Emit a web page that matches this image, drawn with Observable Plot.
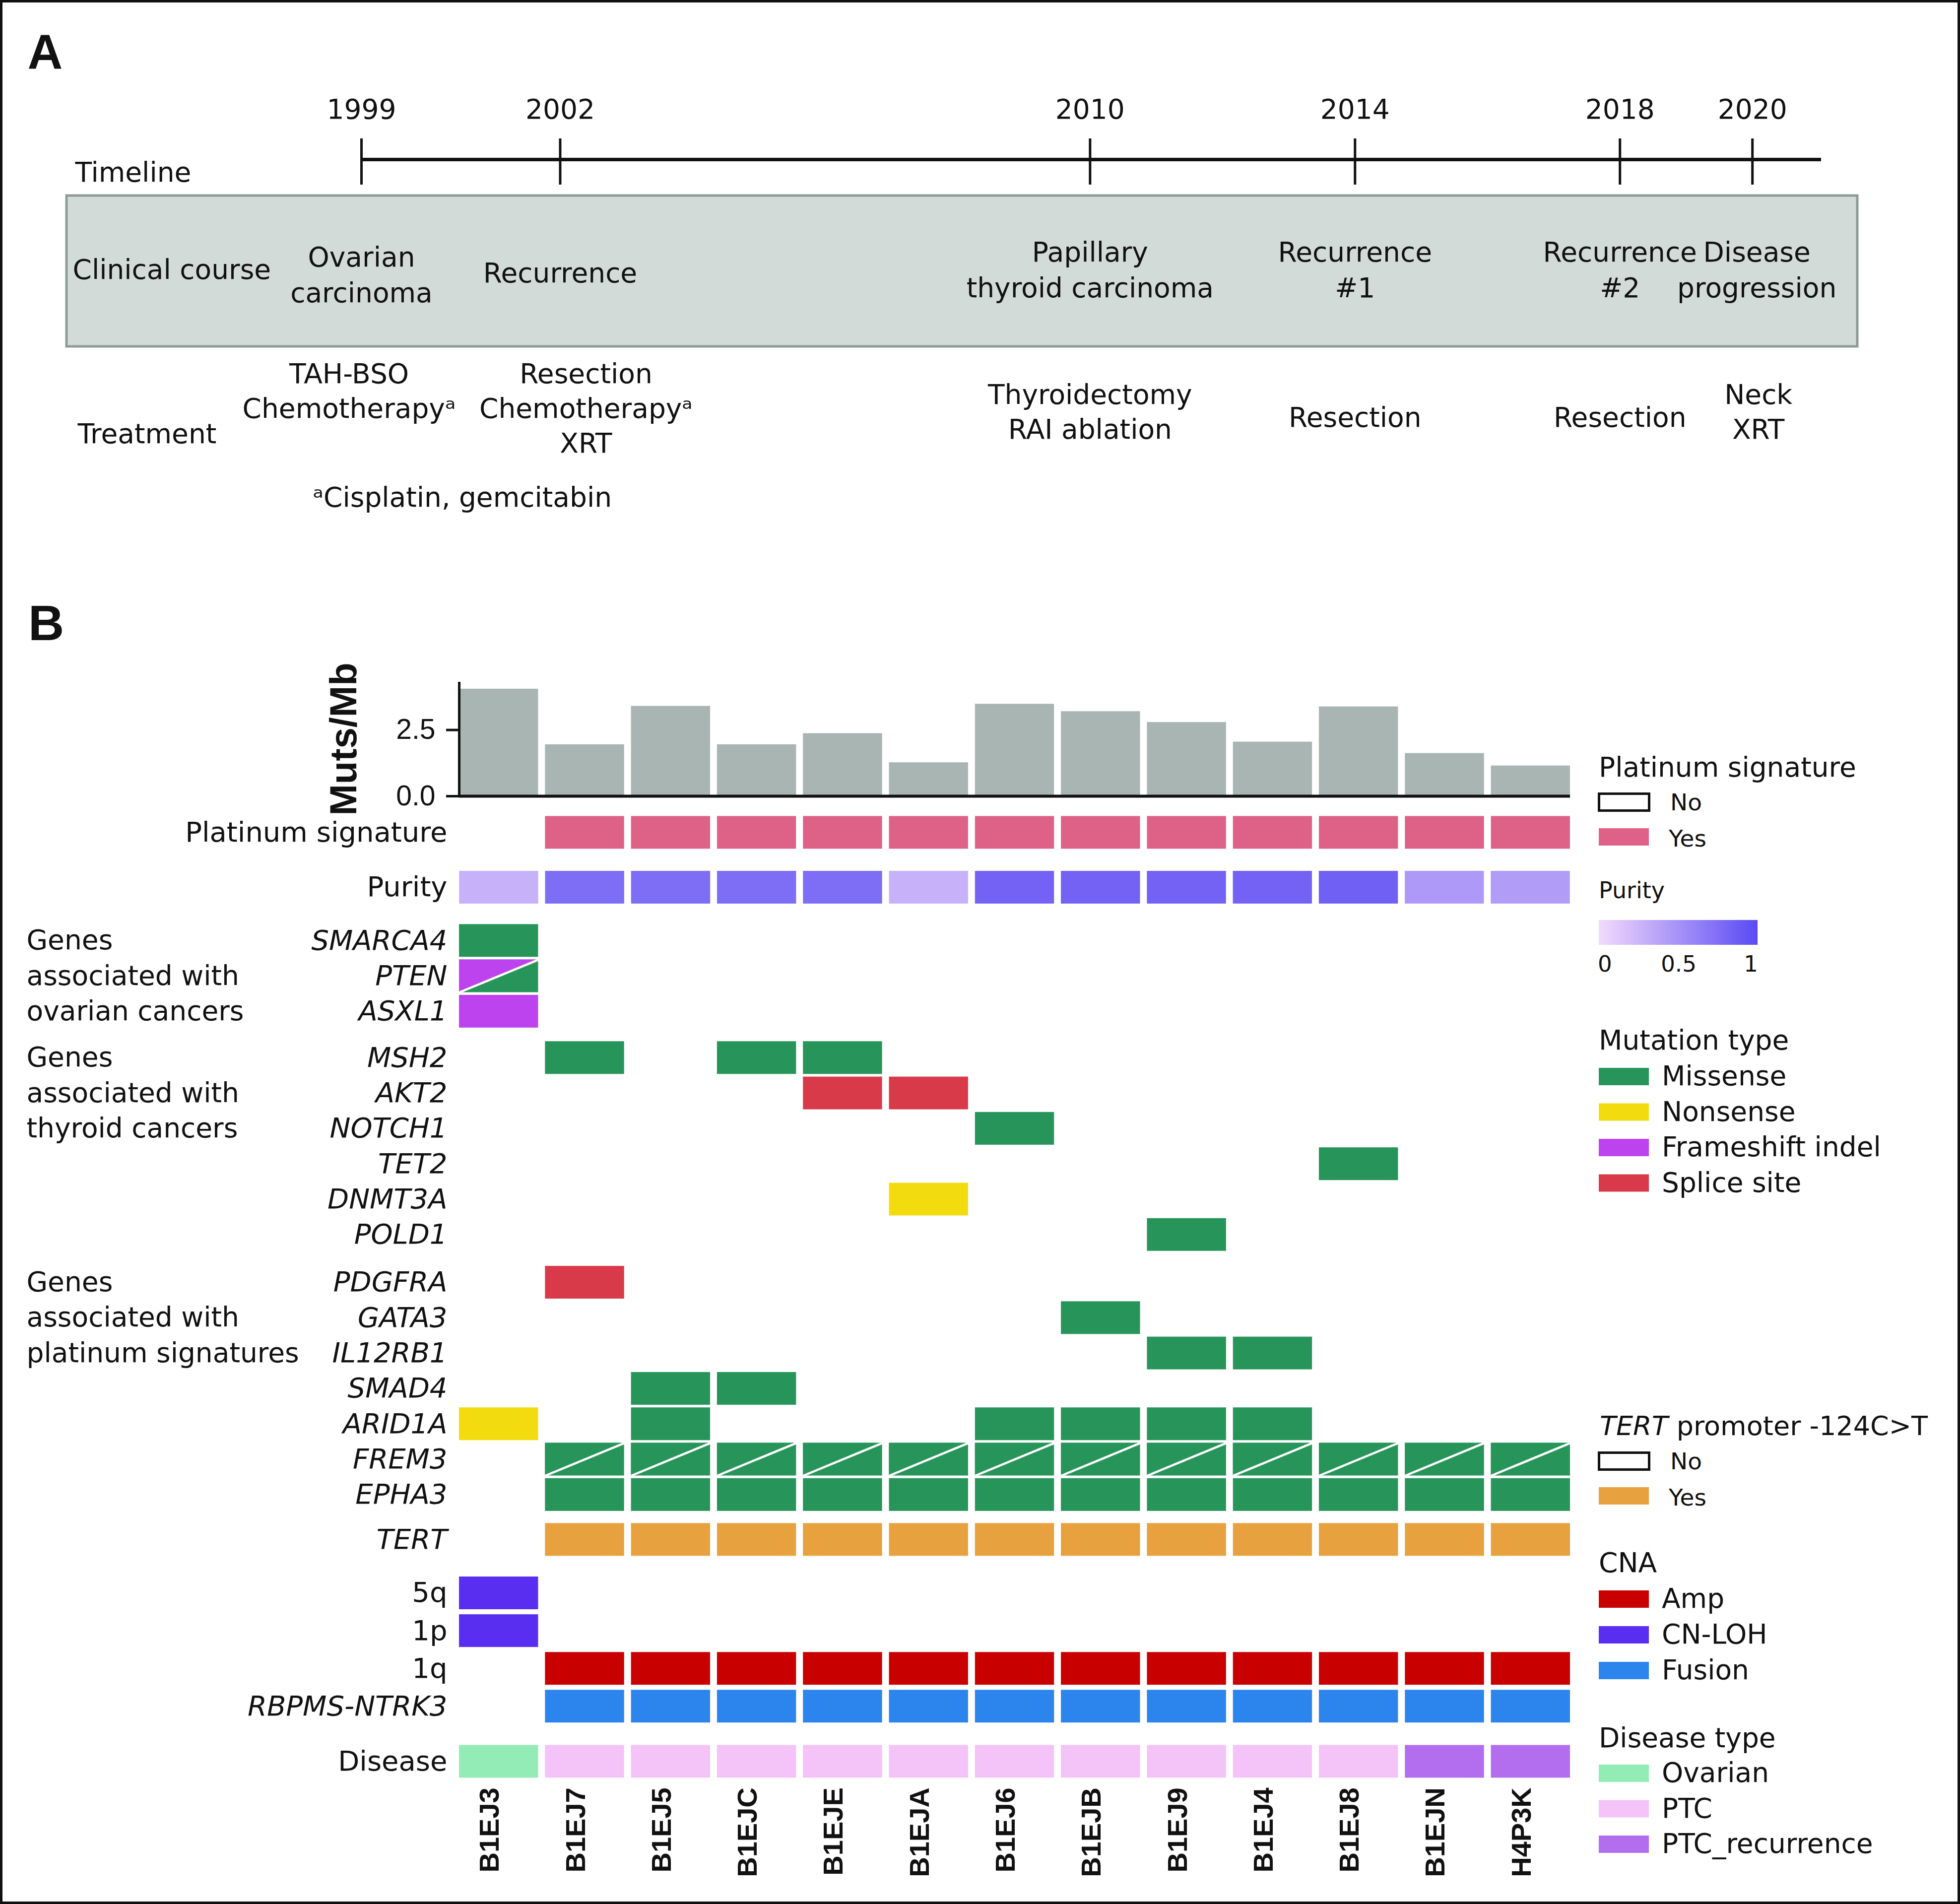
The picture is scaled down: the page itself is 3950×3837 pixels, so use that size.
<!DOCTYPE html>
<html><head><meta charset="utf-8">
<script src="https://cdn.jsdelivr.net/npm/d3@7"></script>
<script src="https://cdn.jsdelivr.net/npm/@observablehq/plot@0.6"></script>
<style>
html,body{margin:0;padding:0;background:#fff;}
#fig{position:relative;width:3950px;height:3837px;background:#fff;overflow:hidden;}
#fig > svg{position:absolute;left:0;}
</style></head><body><div id="fig"></div>
<script>
// ================= DATA =================
// Panel A: timeline
const years = [1999, 2002, 2010, 2014, 2018, 2020];
const clinicalEvents = [
  {year: 1999, lines: ["Ovarian", "carcinoma"]},
  {year: 2002, lines: ["Recurrence"]},
  {year: 2010, lines: ["Papillary", "thyroid carcinoma"]},
  {year: 2014, lines: ["Recurrence", "#1"]},
  {year: 2018, lines: ["Recurrence", "#2"]},
  {year: 2020, lines: ["Disease", "progression"]}
];
const treatments = [
  {year: 1999, lines: ["TAH-BSO", "Chemotherapy\u1d43"]},
  {year: 2002, lines: ["Resection", "Chemotherapy\u1d43", "XRT"]},
  {year: 2010, lines: ["Thyroidectomy", "RAI ablation"]},
  {year: 2014, lines: ["Resection"]},
  {year: 2018, lines: ["Resection"]},
  {year: 2020, lines: ["Neck", "XRT"]}
];
const footnote = "\u1d43Cisplatin, gemcitabin";

// Panel B: oncoprint
const samples = ["B1EJ3","B1EJ7","B1EJ5","B1EJC","B1EJE","B1EJA","B1EJ6","B1EJB","B1EJ9","B1EJ4","B1EJ8","B1EJN","H4P3K"];
const mutsPerMb = [4.05, 1.95, 3.40, 1.95, 2.37, 1.27, 3.48, 3.20, 2.79, 2.05, 3.38, 1.62, 1.15];
const platinumSignature = ["No","Yes","Yes","Yes","Yes","Yes","Yes","Yes","Yes","Yes","Yes","Yes","Yes"];
const purity = [0.28, 0.76, 0.76, 0.76, 0.76, 0.28, 0.83, 0.83, 0.83, 0.83, 0.85, 0.45, 0.43];
const tertPromoter = ["No","Yes","Yes","Yes","Yes","Yes","Yes","Yes","Yes","Yes","Yes","Yes","Yes"];
const diseaseType = ["Ovarian","PTC","PTC","PTC","PTC","PTC","PTC","PTC","PTC","PTC","PTC","PTC_recurrence","PTC_recurrence"];

const ovarianGenes = ["SMARCA4","PTEN","ASXL1"];
const thyroidGenes = ["MSH2","AKT2","NOTCH1","TET2","DNMT3A","POLD1"];
const platinumGenes = ["PDGFRA","GATA3","IL12RB1","SMAD4","ARID1A","FREM3","EPHA3"];
const cnaRows = ["5q","1p","1q","RBPMS-NTRK3"];

// [gene, sample, type]  ("A|B" = cell split diagonally: A upper-left, B lower-right)
const mutations = [
  ["SMARCA4","B1EJ3","Missense"],
  ["PTEN","B1EJ3","Frameshift indel|Missense"],
  ["ASXL1","B1EJ3","Frameshift indel"],
  ["MSH2","B1EJ7","Missense"],["MSH2","B1EJC","Missense"],["MSH2","B1EJE","Missense"],
  ["AKT2","B1EJE","Splice site"],["AKT2","B1EJA","Splice site"],
  ["NOTCH1","B1EJ6","Missense"],
  ["TET2","B1EJ8","Missense"],
  ["DNMT3A","B1EJA","Nonsense"],
  ["POLD1","B1EJ9","Missense"],
  ["PDGFRA","B1EJ7","Splice site"],
  ["GATA3","B1EJB","Missense"],
  ["IL12RB1","B1EJ9","Missense"],["IL12RB1","B1EJ4","Missense"],
  ["SMAD4","B1EJ5","Missense"],["SMAD4","B1EJC","Missense"],
  ["ARID1A","B1EJ3","Nonsense"],["ARID1A","B1EJ5","Missense"],["ARID1A","B1EJ6","Missense"],
  ["ARID1A","B1EJB","Missense"],["ARID1A","B1EJ9","Missense"],["ARID1A","B1EJ4","Missense"],
  ["FREM3","B1EJ7","Missense|Missense"],["FREM3","B1EJ5","Missense|Missense"],["FREM3","B1EJC","Missense|Missense"],
  ["FREM3","B1EJE","Missense|Missense"],["FREM3","B1EJA","Missense|Missense"],["FREM3","B1EJ6","Missense|Missense"],
  ["FREM3","B1EJB","Missense|Missense"],["FREM3","B1EJ9","Missense|Missense"],["FREM3","B1EJ4","Missense|Missense"],
  ["FREM3","B1EJ8","Missense|Missense"],["FREM3","B1EJN","Missense|Missense"],["FREM3","H4P3K","Missense|Missense"],
  ["EPHA3","B1EJ7","Missense"],["EPHA3","B1EJ5","Missense"],["EPHA3","B1EJC","Missense"],
  ["EPHA3","B1EJE","Missense"],["EPHA3","B1EJA","Missense"],["EPHA3","B1EJ6","Missense"],
  ["EPHA3","B1EJB","Missense"],["EPHA3","B1EJ9","Missense"],["EPHA3","B1EJ4","Missense"],
  ["EPHA3","B1EJ8","Missense"],["EPHA3","B1EJN","Missense"],["EPHA3","H4P3K","Missense"]
];
const cnaCalls = [
  ["5q","B1EJ3","CN-LOH"],["1p","B1EJ3","CN-LOH"],
  ["1q","B1EJ7","Amp"],["1q","B1EJ5","Amp"],["1q","B1EJC","Amp"],["1q","B1EJE","Amp"],
  ["1q","B1EJA","Amp"],["1q","B1EJ6","Amp"],["1q","B1EJB","Amp"],["1q","B1EJ9","Amp"],
  ["1q","B1EJ4","Amp"],["1q","B1EJ8","Amp"],["1q","B1EJN","Amp"],["1q","H4P3K","Amp"],
  ["RBPMS-NTRK3","B1EJ7","Fusion"],["RBPMS-NTRK3","B1EJ5","Fusion"],["RBPMS-NTRK3","B1EJC","Fusion"],
  ["RBPMS-NTRK3","B1EJE","Fusion"],["RBPMS-NTRK3","B1EJA","Fusion"],["RBPMS-NTRK3","B1EJ6","Fusion"],
  ["RBPMS-NTRK3","B1EJB","Fusion"],["RBPMS-NTRK3","B1EJ9","Fusion"],["RBPMS-NTRK3","B1EJ4","Fusion"],
  ["RBPMS-NTRK3","B1EJ8","Fusion"],["RBPMS-NTRK3","B1EJN","Fusion"],["RBPMS-NTRK3","H4P3K","Fusion"]
];

// categories & colours
const mutationTypes = ["Missense","Nonsense","Frameshift indel","Splice site"];
const mutationColors = ["#27955a","#f2dc10","#bd43ee","#d93a4a"];
const cnaTypes = ["Amp","CN-LOH","Fusion"];
const cnaColors = ["#c90000","#5a2ef0","#2c85ec"];
const diseaseTypes = ["Ovarian","PTC","PTC_recurrence"];
const diseaseColors = ["#93ebb6","#f4c3f8","#b36ef0"];
const platinumYesColor = "#de6288";
const tertYesColor = "#e8a13f";
const purityRange = ["#f2dafc", "#5a4af3"];
const barColor = "#a9b5b3";

// ================= LAYOUT =================
const W = 3950, H = 3837;
const FONT = "'DejaVu Sans', Verdana, sans-serif";
const ARIAL = "'Liberation Sans', Arial, Helvetica, sans-serif";
const NARROW = "'Liberation Sans Narrow', 'Arial Narrow', 'Liberation Sans', Arial, sans-serif";
const baseStyle = {background: "transparent", overflow: "visible", maxWidth: "none", fontFamily: FONT, fontSize: "56px", color: "#111"};
const fig = document.getElementById("fig");
function place(node, top) { node.style.top = top + "px"; fig.appendChild(node); }

// underlay: grey clinical-course band
const under = d3.create("svg").attr("width", W).attr("height", H).style("top", "0px");
under.append("rect").attr("x", 134).attr("y", 394).attr("width", 3743 - 134).attr("height", 698 - 394)
  .attr("fill", "#d3dbd8").attr("stroke", "#8e9c98").attr("stroke-width", 5);
place(under.node(), 0);

// ---------- Panel A ----------
const laneA = {year: 238, line: 321, tickTop: 279, tickBottom: 372};
// baselines (px) by number of lines in a label
const clinicalBaselines = {1: [568], 2: [526, 598]};
const treatmentBaselines = {1: [859], 2: [813, 883], 3: [771, 841, 911]};
const clinicalShift = {1999: {dx: 0, dy: 10}, 2020: {dx: 9, dy: 0}};
const treatmentShift = {1999: {dx: -25, topAligned: true}, 2002: {dx: 52}, 2020: {dx: 12}};
const headers = [
  {text: "Timeline", y: 365, dx: -577},
  {text: "Clinical course", y: 561, dx: -582},
  {text: "Treatment", y: 892, dx: -572}
];
const laneText = (events, baselines, shifts) => events.map(e => {
  const s = shifts[e.year] || {};
  const bl = s.topAligned ? baselines[3] : baselines[e.lines.length];
  return Plot.text(e.lines, {
    x: () => e.year,
    y: (d, i) => bl[i] + (s.dy || 0),
    text: d => d, lineAnchor: "bottom", fontSize: 55, fontFamily: FONT,
    dx: s.dx || 0
  });
});
const panelA = Plot.plot({
  width: W, height: 1100, marginLeft: 728, marginRight: 280, marginTop: 0, marginBottom: 0,
  x: {domain: [1999, 2021.04], axis: null},
  y: {domain: [0, 1100], range: [0, 1100], axis: null},
  style: baseStyle,
  marks: [
    Plot.ruleY([laneA.line], {strokeWidth: 7, stroke: "#111"}),
    Plot.ruleX(years, {x: d => d, y1: laneA.tickTop, y2: laneA.tickBottom, strokeWidth: 5, stroke: "#111"}),
    Plot.text(years, {x: d => d, y: laneA.year, text: d => String(d), lineAnchor: "bottom", fontSize: 55, fontFamily: FONT}),
    ...laneText(clinicalEvents, clinicalBaselines, clinicalShift),
    ...laneText(treatments, treatmentBaselines, treatmentShift),
    ...headers.map(h => Plot.text([h.text], {frameAnchor: "left", y: () => h.y, dx: h.dx, text: d => d, textAnchor: "start", lineAnchor: "bottom", fontSize: 55, fontFamily: FONT})),
    Plot.text([footnote], {frameAnchor: "left", y: () => 1020, dx: -98, text: d => d, textAnchor: "start", lineAnchor: "bottom", fontSize: 55, fontFamily: FONT}),
    Plot.text(["A"], {frameAnchor: "left", y: () => 137, dx: -673, text: d => d, textAnchor: "start", lineAnchor: "bottom", fontSize: 98, fontWeight: "bold", fontFamily: ARIAL})
  ]
});
place(panelA, 0);

// ---------- Panel B geometry ----------
const colX0 = 925, colX1 = 3164;       // heatmap horizontal extent (px)
const cellW = 0.92;                    // cell width as fraction of column step
const xDomain = [0, samples.length - 1 + cellW];
const xScale = {domain: xDomain, axis: null};
const marginL = colX0, marginR = W - colX1;

const rowGroups = [
  {rows: ["Platinum signature"], gap: 0},
  {rows: ["Purity"], gap: 0.546},
  {rows: ovarianGenes, gap: 0.51},
  {rows: thyroidGenes, gap: 0.31},
  {rows: platinumGenes, gap: 0.35},
  {rows: ["TERT"], gap: 0.27},
  {rows: cnaRows, gap: 0.51, pitch: 1.067},
  {rows: ["Disease"], gap: 0.56}
];
const rowTop = new Map();
let cursor = 0;
rowGroups.forEach((g, gi) => {
  cursor += g.gap;
  const p = g.pitch || 1;
  g.rows.forEach((r, i) => rowTop.set(r, cursor + i * p));
  cursor += (g.rows.length - 1) * p + 1;
});
const cellH = 0.925;
const unit = 71.3;
const yMax = 27.2;
const heatTop = 1620, heatMarginTop = 24.4, heatHeight = H - heatTop;
const heatMarginBottom = heatHeight - heatMarginTop - yMax * unit;
const rowCenter = r => rowTop.get(r) + cellH / 2;

// ---------- Bar chart (Muts/Mb) ----------
const barTop = 1300;
const barPlot = Plot.plot({
  width: W, height: 340, marginLeft: marginL, marginRight: marginR, marginTop: 74, marginBottom: 36,
  x: xScale,
  y: {domain: [0, 4.31]},
  style: baseStyle,
  marks: [
    Plot.rect(samples, {x1: (d, i) => i, x2: (d, i) => i + cellW, y1: 0, y2: (d, i) => mutsPerMb[i], fill: barColor}),
    Plot.ruleY([0], {strokeWidth: 6, stroke: "#111"}),
    Plot.ruleX([0], {y1: 0, y2: 4.31, strokeWidth: 5, stroke: "#111"}),
    Plot.axisY({ticks: [0, 2.5], tickFormat: d => d.toFixed(1), tickSize: 26, tickPadding: 22, strokeWidth: 5,
      fontSize: 57, fontFamily: ARIAL, label: null}),
    Plot.text(["Muts/Mb"], {frameAnchor: "left", dx: -232, rotate: -90, textAnchor: "middle", text: d => d, fontSize: 76,
      fontWeight: "bold", fontFamily: NARROW})
  ]
});
place(barPlot, barTop);

// ---------- Heatmap cells ----------
const cells = [];
platinumSignature.forEach((v, i) => { if (v === "Yes") cells.push({row: "Platinum signature", col: i, types: ["Platinum: Yes"]}); });
mutations.forEach(([g, s, t]) => cells.push({row: g, col: samples.indexOf(s), types: t.split("|")}));
tertPromoter.forEach((v, i) => { if (v === "Yes") cells.push({row: "TERT", col: i, types: ["TERT: Yes"]}); });
cnaCalls.forEach(([r, s, t]) => cells.push({row: r, col: samples.indexOf(s), types: [t]}));
diseaseType.forEach((v, i) => cells.push({row: "Disease", col: i, types: [v]}));
cells.forEach((d, k) => { d.key = k; d.top = rowTop.get(d.row); });
const splitCells = cells.filter(d => d.types.length === 2);
const triangles = splitCells.flatMap(d => [
  {id: d.key, x: d.col, y1: d.top, y2: d.top + cellH, type: d.types[0]},
  {id: d.key, x: d.col + cellW, y1: d.top, y2: d.top, type: d.types[0]}
]);

const colorDomain = [...mutationTypes, ...cnaTypes, ...diseaseTypes, "Platinum: Yes", "TERT: Yes"];
const colorRange = [...mutationColors, ...cnaColors, ...diseaseColors, platinumYesColor, tertYesColor];

const allRows = rowGroups.flatMap(g => g.rows);
const italicRows = new Set([...ovarianGenes, ...thyroidGenes, ...platinumGenes, "TERT", "RBPMS-NTRK3"]);
const groupTitles = [
  {rows: ovarianGenes, lines: ["Genes", "associated with", "ovarian cancers"]},
  {rows: thyroidGenes, lines: ["Genes", "associated with", "thyroid cancers"]},
  {rows: platinumGenes, lines: ["Genes", "associated with", "platinum signatures"]}
];
const groupLines = groupTitles.flatMap(g => g.lines.map((t, i) => ({text: t, row: g.rows[i]})));

const heatPlot = Plot.plot({
  width: W, height: heatHeight, marginLeft: marginL, marginRight: marginR,
  marginTop: heatMarginTop, marginBottom: heatMarginBottom,
  x: xScale,
  y: {domain: [0, yMax], reverse: true, axis: null},
  color: {type: "ordinal", domain: colorDomain, range: colorRange},
  style: baseStyle,
  marks: [
    Plot.rect(cells, {x1: d => d.col, x2: d => d.col + cellW, y1: d => d.top, y2: d => d.top + cellH,
      fill: d => d.types[d.types.length - 1]}),
    Plot.areaY(triangles, {x: "x", y1: "y1", y2: "y2", z: "id", fill: "type"}),
    Plot.link(splitCells, {x1: d => d.col, y1: d => d.top + cellH, x2: d => d.col + cellW, y2: d => d.top,
      stroke: "white", strokeWidth: 4.5}),
    Plot.text(allRows.filter(r => !italicRows.has(r)), {y: rowCenter, frameAnchor: "left", dx: -24,
      textAnchor: "end", text: d => d, fontSize: 56, fontFamily: FONT}),
    Plot.text(allRows.filter(r => italicRows.has(r)), {y: rowCenter, frameAnchor: "left", dx: -24,
      textAnchor: "end", text: d => d, fontSize: 56, fontStyle: "italic", fontFamily: FONT}),
    Plot.text(groupLines, {y: d => rowCenter(d.row), frameAnchor: "left", dx: 53 - colX0,
      textAnchor: "start", text: "text", fontSize: 55, fontFamily: FONT}),
    Plot.text(samples, {x: (d, i) => i + cellW / 2, frameAnchor: "bottom", dy: 18, rotate: -90,
      textAnchor: "end", text: d => d, fontSize: 56, fontWeight: "bold", fontFamily: NARROW})
  ]
});
place(heatPlot, heatTop);

// ---------- Purity row (continuous colour) ----------
const purityTop = heatTop + heatMarginTop + rowTop.get("Purity") * unit;
const purityPlot = Plot.plot({
  width: W, height: cellH * unit, marginLeft: marginL, marginRight: marginR, marginTop: 0, marginBottom: 0,
  x: xScale,
  color: {type: "linear", domain: [0, 1], range: purityRange, interpolate: "rgb"},
  style: baseStyle,
  marks: [
    Plot.rect(purity, {x1: (d, i) => i, x2: (d, i) => i + cellW, fill: d => d})
  ]
});
place(purityPlot, purityTop);

// ---------- Legends + panel label B + frame ----------
const heatColor = heatPlot.scale("color");
const purColor = purityPlot.scale("color");
const colorOf = (sc, v, fb) => (sc && typeof sc.apply === "function") ? sc.apply(v) : fb;
const ov = d3.create("svg").attr("width", W).attr("height", H).style("top", "0px")
  .style("font-family", FONT).style("pointer-events", "none");
const LX = 3222, LTX = 3349;
function ltext(x, y, s, size, extra = {}) {
  const t = ov.append("text").attr("x", x).attr("y", y).attr("font-size", size).attr("fill", "#111").text(s);
  for (const k in extra) t.attr(k, extra[k]);
  return t;
}
function swatch(y, color) { ov.append("rect").attr("x", LX).attr("y", y).attr("width", 101).attr("height", 35).attr("fill", color); }
function noBox(y) { ov.append("rect").attr("x", 3222.5).attr("y", y + 2.5).attr("width", 101).attr("height", 34).attr("fill", "none").attr("stroke", "#111").attr("stroke-width", 5); }

// Platinum signature
ltext(LX, 1565, "Platinum signature", 55);
noBox(1597); ltext(3366, 1633, "No", 47);
swatch(1669, colorOf(heatColor, "Platinum: Yes", platinumYesColor)); ltext(3363, 1706, "Yes", 47);
// Purity ramp
ltext(LX, 1810, "Purity", 46);
const grad = ov.append("defs").append("linearGradient").attr("id", "purgrad");
d3.range(0, 1.0001, 0.1).forEach(t => grad.append("stop").attr("offset", t).attr("stop-color", colorOf(purColor, t, d3.interpolateRgb(...purityRange)(t))));
ov.append("rect").attr("x", LX).attr("y", 1854).attr("width", 320).attr("height", 50).attr("fill", "url(#purgrad)");
ltext(3220, 1958, "0", 45);
ltext(3383, 1958, "0.5", 45, {"text-anchor": "middle"});
ltext(3543, 1958, "1", 45, {"text-anchor": "end"});
// Mutation type
ltext(LX, 2115, "Mutation type", 55);
mutationTypes.forEach((m, i) => { const y = 2152 + i * 71.5; swatch(y, colorOf(heatColor, m, mutationColors[i])); ltext(LTX, y + 35, m, 55); });
// TERT promoter
const tt = ltext(3224, 2892, "", 54);
tt.append("tspan").attr("font-style", "italic").text("TERT");
tt.append("tspan").text(" promoter -124C>T");
noBox(2925); ltext(3366, 2961, "No", 47);
swatch(2997, colorOf(heatColor, "TERT: Yes", tertYesColor)); ltext(3363, 3034, "Yes", 47);
// CNA
ltext(LX, 3168, "CNA", 55);
cnaTypes.forEach((m, i) => { const y = 3205 + i * 72; swatch(y, colorOf(heatColor, m, cnaColors[i])); ltext(LTX, y + 35, m, 55); });
// Disease type
ltext(LX, 3521, "Disease type", 55);
diseaseTypes.forEach((m, i) => { const y = 3556 + i * 71.5; swatch(y, colorOf(heatColor, m, diseaseColors[i])); ltext(LTX, y + 35, m, 55); });
// panel label B
ltext(57, 1290, "B", 100, {"font-weight": "bold", "font-family": ARIAL});
// outer frame
ov.append("rect").attr("x", 2.5).attr("y", 2.5).attr("width", W - 5).attr("height", H - 5)
  .attr("fill", "none").attr("stroke", "#111").attr("stroke-width", 5);
place(ov.node(), 0);
</script>
</body></html>
